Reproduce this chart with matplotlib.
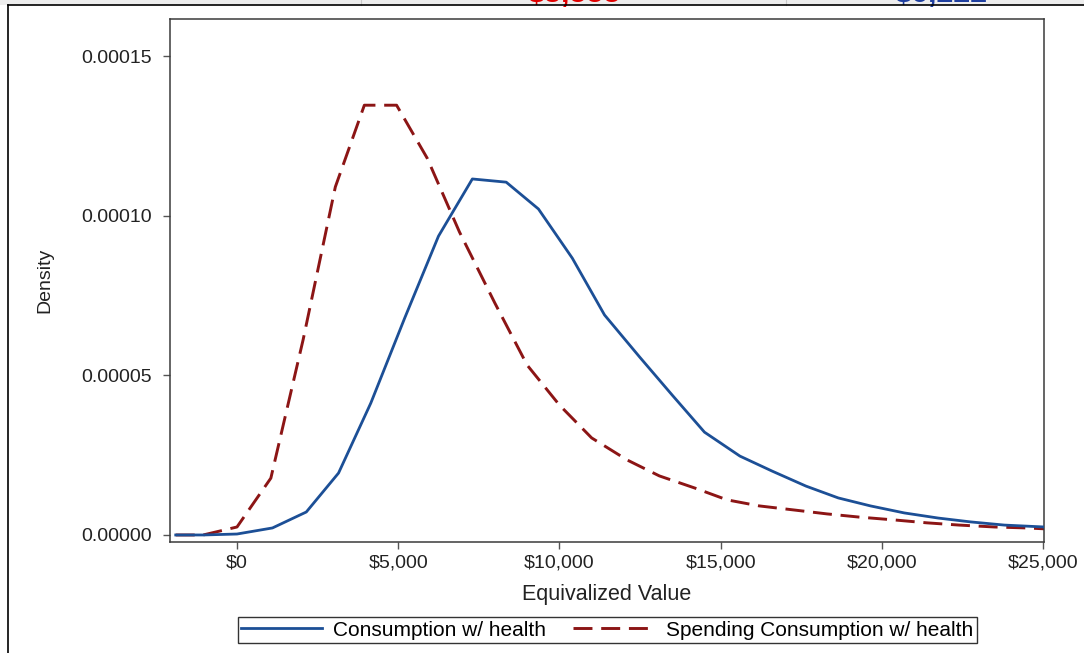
import matplotlib
matplotlib.use("Agg")
from matplotlib import pyplot as plt
from matplotlib.lines import Line2D
from matplotlib.patches import Rectangle
from matplotlib.ticker import FuncFormatter

# density curves
cons_x = [-1900, -1050, 0, 1100, 2150, 3150, 4150, 5200, 6250, 7300, 8350, 9350,
          10400, 11400, 12500, 13500, 14500, 15600, 16600, 17650, 18650, 19650,
          20700, 21750, 22750, 23800, 25050]
cons_y = [0.0, 0.0, 0.3e-6, 2.2e-6, 7.2e-6, 19.4e-6, 41.3e-6, 67.9e-6, 93.6e-6,
          111.5e-6, 110.5e-6, 102.1e-6, 86.7e-6, 68.9e-6, 55.6e-6, 43.8e-6,
          32.2e-6, 24.7e-6, 20.0e-6, 15.3e-6, 11.6e-6, 9.1e-6, 6.9e-6, 5.3e-6,
          4.1e-6, 3.1e-6, 2.5e-6]

spend_x = [-1900, -1050, 0, 1050, 2050, 3050, 3950, 4950, 5900, 6900, 8000, 9000,
           10000, 11000, 12100, 13100, 14200, 15200, 16200, 17300, 18300, 19300,
           20400, 21400, 22400, 23500, 24500, 25100]
spend_y = [0.0, 0.0, 2.5e-6, 17.8e-6, 61.1e-6, 109.0e-6, 134.6e-6, 134.6e-6,
           118.0e-6, 94.9e-6, 72.6e-6, 53.2e-6, 40.7e-6, 30.4e-6, 23.5e-6,
           18.5e-6, 14.7e-6, 11.0e-6, 9.1e-6, 7.8e-6, 6.6e-6, 5.6e-6, 4.7e-6,
           3.8e-6, 3.1e-6, 2.5e-6, 2.2e-6, 1.9e-6]

x_ticks = [0, 5000, 10000, 15000, 20000, 25000]
y_ticks = [0.0, 0.00005, 0.00010, 0.00015]
labels = ["Consumption w/ health", "Spending Consumption w/ health"]
top_values = ["$3,555", "$6,222"]

plt.rcParams["font.family"] = ["Liberation Sans", "DejaVu Sans"]

W, H = 1084, 653
fig = plt.figure(figsize=(W / 100, H / 100), dpi=100)
fig.patch.set_facecolor("white")

# cut-off table strip at the very top
fig.add_artist(Rectangle((0, 1 - 5 / H), 1, 5 / H, transform=fig.transFigure,
                         facecolor="#ededed", edgecolor="none", zorder=1))
for px in [361, 786]:
    fig.add_artist(Line2D([px / W, px / W], [1 - 5 / H, 1], transform=fig.transFigure,
                          color="#c8c8c8", lw=0.8, zorder=2))
fig.text(574 / W, 1 - 2 / H, top_values[0], color="#e00000", fontsize=22,
         fontweight="bold", ha="center", va="baseline", zorder=3)
fig.text(941 / W, 1 - 2 / H, top_values[1], color="#1f3f9f", fontsize=22,
         fontweight="bold", ha="center", va="baseline", zorder=3)
fig.add_artist(Line2D([8 / W, 1], [1 - 5 / H, 1 - 5 / H], transform=fig.transFigure,
                      color="black", lw=1.2, zorder=4))
fig.add_artist(Line2D([8 / W, 8 / W], [0, 1 - 5 / H], transform=fig.transFigure,
                      color="black", lw=1.2, zorder=4))

ax = fig.add_axes([170 / W, 1 - 542 / H, 874 / W, 523 / H])
blue = "#1c4f96"
red = "#8c1515"
ax.plot(cons_x, cons_y, color=blue, lw=2.0, label=labels[0], zorder=3)
ax.plot(spend_x, spend_y, color=red, lw=2.1, dashes=(6.5, 3), label=labels[1], zorder=2)

ax.set_xlim(-2078, 25031)
ax.set_ylim(-0.0000022, 0.0001616)
ax.set_xticks(x_ticks)
ax.set_yticks(y_ticks)
ax.xaxis.set_major_formatter(FuncFormatter(lambda v, p: "${:,.0f}".format(v)))
ax.yaxis.set_major_formatter(FuncFormatter(lambda v, p: "{:.5f}".format(v)))

for s in ax.spines.values():
    s.set_color("#3a3a3a")
    s.set_linewidth(1.1)
ax.tick_params(axis="both", direction="out", length=5, width=1, color="#555555",
               labelsize=14, labelcolor="#222222")
ax.tick_params(axis="y", pad=8)
ax.tick_params(axis="x", pad=4)

ax.set_xlabel("Equivalized Value", fontsize=15.5, color="#222222", labelpad=9)
ax.set_ylabel("Density", fontsize=14, color="#222222", labelpad=20)

leg = fig.legend(loc="center", bbox_to_anchor=(607 / W, 1 - 630 / H), ncol=2,
                 fontsize=15, frameon=True, fancybox=False, handlelength=3.9,
                 handletextpad=0.55, columnspacing=1.3, borderpad=0.15,
                 borderaxespad=0)
leg.get_frame().set_edgecolor("black")
leg.get_frame().set_linewidth(1.0)

fig.savefig("out.png", dpi=100)
